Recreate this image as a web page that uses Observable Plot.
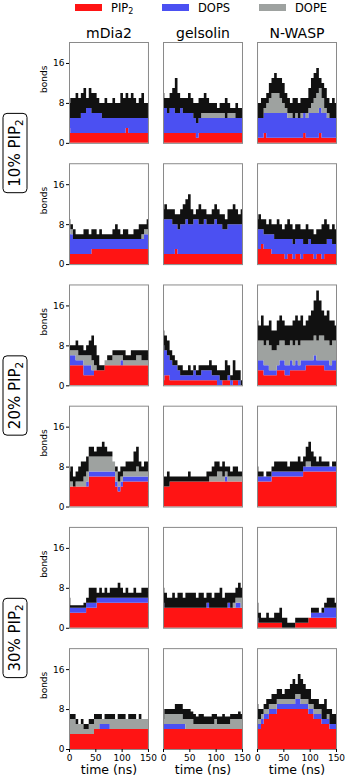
<!DOCTYPE html>
<html><head><meta charset="utf-8">
<script src="https://cdn.jsdelivr.net/npm/d3@7"></script>
<script src="https://cdn.jsdelivr.net/npm/@observablehq/plot@0.6"></script>
<style>
body{margin:0;background:#fff;font-family:"DejaVu Sans",sans-serif;}
#legend{position:relative;width:347px;height:16px;font-size:11.5px;color:#000;}
.sw{position:absolute;top:3.5px;width:26.5px;height:7.5px;}
.lt{position:absolute;top:0.5px;line-height:15px;white-space:nowrap;}
.lt sub{font-size:8px;vertical-align:-2px;line-height:0;}
</style></head><body>
<div id="legend"></div>
<div id="chart"></div>
<script>
// ---- categories ----
const proteins = ["mDia2", "gelsolin", "N-WASP"];
const conditions = ["10% PIP", "20% PIP", "30% PIP"];
const panelRows = [0, 1, 2, 3, 4, 5];
const rowCondition = [0, 0, 1, 1, 2, 2];
const lipids = ["PIP2", "DOPS", "DOPE"];
const lipidColors = ["#ff1414", "#4b50f2", "#9ea2a0"];
const times = [0,5,10,15,20,25,30,35,40,45,50,55,60,65,70,75,80,85,90,95,100,105,110,115,120,125,130,135,140,145,150];
const xTicks = [0, 50, 100, 150];
const yTicks = [0, 8, 16];

// ---- series values (bonds), one row per panel: row-major, mDia2 / gelsolin / N-WASP ----
const pip2Bonds = [
 [3,2,2,2,2,2,2,2,2,2,2,2,2,2,2,2,2,2,2,2,2,2,3,2,2,2,2,2,2,2,2],
 [2,2,2,2,2,2,2,2,2,2,2,2,2,1,2,2,2,2,2,2,2,2,2,2,2,2,2,2,2,2,2],
 [1,1,1,2,1,1,1,1,1,1,1,1,1,1,1,1,1,1,2,1,1,1,1,1,2,1,1,1,1,1,1],
 [2,2,2,2,2,2,2,2,2,3,3,3,3,3,3,3,3,3,3,3,3,3,3,3,3,3,3,3,3,3,3],
 [2,2,2,2,2,3,2,2,2,2,2,2,2,2,2,2,2,2,2,2,2,2,2,2,2,2,2,2,2,2,2],
 [3,3,4,3,3,3,2,2,2,2,2,1,2,2,1,2,2,1,2,2,2,2,1,2,2,1,2,2,2,2,2],
 [4,4,4,4,4,4,2,2,2,2,3,3,3,3,4,4,4,4,4,4,4,4,4,4,4,4,4,4,4,4,4],
 [1,2,2,1,1,1,1,1,1,1,1,1,1,1,1,1,1,1,1,1,1,0,0,1,1,1,0,1,1,0,0],
 [3,3,3,2,2,2,2,2,3,3,3,2,2,3,3,3,3,3,3,4,4,4,4,4,4,4,3,3,3,3,3],
 [4,4,4,4,4,4,4,4,6,6,6,6,6,6,6,6,6,6,4,3,4,5,5,5,5,5,5,5,5,5,5],
 [4,4,4,5,5,5,5,5,5,5,5,5,5,5,5,5,5,5,5,5,5,5,5,5,5,5,5,5,5,5,5],
 [5,5,5,5,5,5,6,6,6,6,6,6,6,6,6,6,6,6,7,7,7,7,7,7,7,7,7,7,7,7,7],
 [3,3,3,3,3,3,3,4,4,4,4,5,5,5,5,5,5,5,5,5,5,5,5,5,5,5,5,5,5,5,5],
 [4,4,4,4,4,4,4,4,4,4,4,4,4,4,4,4,4,4,4,4,4,4,4,4,4,4,4,4,4,4,4],
 [1,1,1,1,1,1,1,1,1,1,0,0,0,0,0,1,1,1,1,1,2,2,2,2,2,2,2,2,2,2,2],
 [3,3,3,3,3,3,3,3,3,3,4,4,4,4,4,4,4,4,4,4,4,4,4,4,4,4,4,4,4,4,4],
 [4,4,4,4,4,4,4,4,4,4,4,4,4,4,4,4,4,4,4,4,4,4,4,4,4,4,4,4,4,4,4],
 [4,4,5,6,6,7,7,7,8,8,8,8,8,8,8,8,8,8,8,8,7,7,6,6,6,5,5,5,4,4,4]
];
const dopsBonds = [
 [2,3,3,3,3,4,4,5,5,4,4,4,4,3,3,3,3,3,3,3,3,3,2,3,3,3,3,3,3,3,3],
 [5,5,4,5,5,4,4,5,4,4,4,4,3,3,3,3,3,3,3,3,3,3,3,3,3,3,3,3,3,3,3],
 [4,4,4,4,5,5,5,5,5,5,5,5,4,4,4,4,4,4,4,4,5,5,5,5,5,5,5,4,4,4,4],
 [5,4,3,3,3,3,3,3,3,2,2,2,2,2,2,2,2,2,2,2,2,2,2,2,2,2,2,2,2,3,3],
 [7,7,7,7,6,5,5,6,6,7,6,6,7,7,6,6,7,6,6,6,7,6,6,5,5,6,6,6,6,6,6],
 [4,4,3,3,3,3,4,3,3,3,3,4,3,3,3,3,3,4,2,2,3,2,3,2,2,3,2,3,3,2,2],
 [2,2,2,1,1,1,2,2,2,1,0,0,0,0,0,0,0,0,0,0,1,0,0,0,0,0,0,0,0,0,0],
 [7,5,4,4,3,3,2,1,1,1,1,1,2,1,1,2,2,2,2,1,1,2,1,0,0,1,1,0,0,1,0],
 [2,2,2,2,2,1,1,1,1,2,2,2,2,2,1,2,1,2,2,1,1,1,2,1,1,1,2,2,1,2,2],
 [0,0,0,0,0,0,0,1,1,1,1,1,1,1,1,1,1,1,1,1,1,1,1,1,1,1,1,1,1,1,1],
 [0,0,0,0,0,0,0,0,0,0,0,0,0,0,0,0,0,0,0,0,0,0,0,0,1,0,0,0,0,0,0],
 [1,1,1,1,1,1,1,1,1,1,1,1,1,1,1,1,1,1,1,1,1,1,1,1,1,1,1,1,1,1,1],
 [1,1,1,1,1,1,1,1,1,1,1,1,1,1,1,1,1,1,1,1,1,1,1,1,1,1,1,1,1,1,1],
 [1,0,0,0,0,0,0,0,0,0,0,0,0,0,0,0,0,1,0,0,0,0,0,0,0,1,0,0,1,1,0],
 [1,0,0,0,0,0,0,0,0,0,0,0,0,0,0,0,0,0,0,0,0,1,1,1,1,1,2,2,2,2,2],
 [0,0,0,0,0,0,0,0,0,0,0,0,1,1,1,1,0,0,0,0,0,0,0,0,0,0,0,0,0,0,0],
 [1,1,1,1,1,1,1,1,1,0,0,0,0,0,0,0,0,0,0,0,0,0,0,0,0,0,0,0,0,0,0],
 [1,1,1,1,1,1,1,1,1,1,1,1,1,1,1,2,2,1,1,1,1,1,1,1,1,1,1,1,1,1,1]
];
const dopeBonds = [
 [0,0,0,0,0,0,0,0,0,0,0,0,0,0,0,0,0,0,0,0,0,0,0,0,0,0,0,0,0,0,0],
 [0,0,0,0,0,0,0,0,0,0,0,0,0,0,0,1,1,1,1,1,1,1,1,1,0,1,1,1,0,0,0],
 [0,0,0,1,2,3,4,4,4,3,2,1,1,1,0,1,0,1,0,1,1,2,3,4,4,3,1,1,0,0,0],
 [1,1,0,0,0,0,0,0,0,0,0,0,0,0,0,0,0,0,0,0,0,0,0,0,0,0,0,0,1,1,1],
 [0,0,0,0,0,0,0,0,0,0,0,0,0,0,0,0,0,0,0,0,0,0,0,0,0,0,0,0,0,0,0],
 [0,0,0,0,0,0,0,0,0,0,0,0,0,0,0,0,0,0,0,0,0,0,0,0,0,0,0,0,0,0,0],
 [1,1,1,2,1,1,2,2,2,2,1,0,0,0,1,1,1,2,2,2,1,1,1,1,1,1,2,2,1,1,1],
 [0,0,0,0,0,0,0,0,0,0,0,0,0,0,0,0,0,0,0,0,0,0,0,0,0,0,0,0,0,0,0],
 [4,4,4,4,5,5,4,4,4,4,4,4,4,4,4,4,4,4,4,4,4,4,4,4,5,5,4,4,4,4,4],
 [1,1,0,1,1,1,2,2,3,3,3,3,3,3,3,3,3,2,2,1,1,1,1,1,1,1,2,1,1,1,1],
 [0,0,0,0,0,0,0,0,0,0,0,0,0,0,0,0,0,0,1,1,1,2,2,1,1,1,1,1,1,1,1],
 [0,0,0,0,0,0,0,0,0,0,0,0,0,0,0,0,0,0,0,1,1,0,0,0,0,0,0,0,0,0,0],
 [0,0,0,0,0,0,0,0,0,0,0,0,0,0,0,0,0,0,0,0,0,0,0,0,0,0,0,0,0,0,0],
 [0,0,0,0,0,0,0,0,0,0,0,0,0,0,0,0,0,0,0,0,0,0,0,0,0,0,0,1,1,1,2],
 [0,0,0,0,0,0,0,0,0,0,0,0,0,0,0,0,0,0,0,0,0,0,0,0,0,0,0,0,0,0,0],
 [3,3,3,2,2,2,1,1,2,2,2,2,1,1,1,1,2,2,2,2,2,2,2,2,2,2,2,2,2,2,2],
 [1,2,2,2,2,2,2,2,1,2,2,2,1,1,1,1,1,1,1,1,2,1,1,1,1,1,2,2,2,2,2],
 [1,1,1,1,1,1,1,1,1,1,1,1,1,1,1,1,1,1,1,1,1,1,1,1,1,0,0,1,0,0,0]
];
// upper edge of the fluctuating total (black trace)
const peakBonds = [
 [8,9,9,10,9,10,11,9,11,10,10,9,8,8,9,8,8,9,8,8,10,9,10,9,10,9,8,9,10,8,8],
 [10,9,9,10,11,13,10,9,9,9,10,9,8,8,9,9,10,9,8,8,8,7,8,8,9,8,7,7,8,7,7],
 [8,8,9,9,10,12,13,14,13,13,12,10,9,8,9,9,8,9,9,9,11,13,14,15,13,12,11,9,8,9,8],
 [9,8,7,6,6,6,7,7,6,7,7,6,7,6,6,6,6,7,8,7,6,7,7,6,6,7,7,8,8,8,9],
 [11,12,11,11,11,10,10,11,12,13,14,11,10,11,12,11,11,10,10,11,12,11,10,10,9,11,11,12,11,10,11],
 [9,10,9,9,8,9,8,8,9,8,7,8,9,8,7,8,8,7,7,8,7,7,6,7,7,8,9,8,7,8,7],
 [8,8,8,9,8,8,7,8,9,10,8,6,4,4,5,6,6,7,7,7,7,7,6,6,7,7,7,7,7,7,7],
 [11,10,9,7,6,5,4,4,3,3,4,3,4,3,4,4,4,4,5,4,4,3,3,3,5,4,2,5,3,3,1],
 [13,12,14,12,12,13,11,11,13,14,13,12,12,12,13,14,13,14,12,13,14,15,17,19,17,15,14,15,13,13,12],
 [7,8,6,7,8,9,9,10,12,12,11,12,12,13,12,11,11,9,8,7,8,8,9,9,9,11,12,9,8,9,9],
 [6,6,7,6,6,6,6,6,6,6,7,6,6,6,6,6,6,7,7,8,9,9,8,9,8,8,7,8,8,7,7],
 [8,7,7,6,7,7,8,9,9,9,9,9,8,9,9,9,10,9,10,12,13,11,10,9,10,9,9,9,8,9,9],
 [6,4.5,4.5,4.5,4.5,4.5,5,6,8,8,8,7,8,7,8,7,8,8,8,9,8,7,8,7,7,8,7,7,8,8,8],
 [8,7,6,6,7,6,7,7,6,7,7,7,7,6,7,7,6,7,7,6,7,7,8,6,7,7,7,7,8,9,8],
 [5,3,2,2,3,2,2,3,3,4,2,2,1,1,1,2,2,2,2,2,2,4,4,4,3,4,5,6,6,6,5],
 [7,7,7,6,5,6,5,5,6,6,7,7,7,6,7,7,7,7,6,7,7,7,6,7,7,7,6,7,6,6,6],
 [7,8,8,8,8,9,9,9,8,8,8,7.5,7,6.5,7,7,6.5,6.5,6.5,7,7,6.5,6.5,7,6.5,6.5,7,7,7,7.5,7],
 [9,8,8,9,10,10,11,11,12,12,11,12,12,13,14,13,15,14,13,12,12,10,10,10,9,9,10,8,8,7,7]
];
const seriesByLipid = [pip2Bonds, dopsBonds, dopeBonds];

// ---- tables for Plot ----
const layerData = [];
const traceData = [];
pip2Bonds.forEach((_, k) => {
  const row = Math.floor(k / 3), protein = proteins[k % 3];
  times.forEach((t, i) => {
    let total = 0;
    lipids.forEach((lipid, j) => {
      const v = seriesByLipid[j][k][i];
      total += v;
      layerData.push({row, protein, time: t, lipid, bonds: v});
    });
    traceData.push({row, protein, time: t, low: total, high: peakBonds[k][i]});
  });
});

// ---- legend ----
const legend = document.getElementById("legend");
const legendPos = [[75, 111], [162, 198], [259, 295]];
const legendLabels = ["PIP<sub>2</sub>", "DOPS", "DOPE"];
lipids.forEach((l, j) => {
  const s = document.createElement("div");
  s.className = "sw"; s.style.left = legendPos[j][0] + "px"; s.style.background = lipidColors[j];
  legend.appendChild(s);
  const t = document.createElement("div");
  t.className = "lt"; t.style.left = legendPos[j][1] + "px"; t.innerHTML = legendLabels[j];
  legend.appendChild(t);
});

const font = "DejaVu Sans";
const plot = Plot.plot({
  width: 347, height: 765,
  marginLeft: 69, marginRight: 11, marginTop: 26, marginBottom: 32,
  style: {fontFamily: font, background: "#fff", color: "#000"},
  x: {domain: [0, 150]},
  y: {domain: [0, 20.2]},
  fx: {domain: proteins, paddingInner: 0.16, paddingOuter: 0, round: false},
  fy: {domain: panelRows, paddingInner: 0.168, paddingOuter: 0, round: false, axis: null},
  color: {domain: lipids, range: lipidColors},
  marks: [
    Plot.areaY(layerData, Plot.stackY({order: lipids}, {
      x: "time", y: "bonds", z: "lipid", fill: "lipid", fx: "protein", fy: "row", curve: "step"
    })),
    Plot.areaY(traceData, {x: "time", y1: "low", y2: "high", fill: "#111", fx: "protein", fy: "row", curve: "step"}),
    Plot.frame({stroke: "#8a8a8a", strokeWidth: 1}),
    Plot.axisX({ticks: xTicks, tickSize: 3, tickPadding: 2, fontSize: 9, label: null, facetAnchor: "bottom"}),
    Plot.axisY({ticks: yTicks, tickSize: 3, tickPadding: 2, fontSize: 9, label: null, facetAnchor: "left"}),
    Plot.axisFx({anchor: "top", label: null, fontSize: 14, tickSize: 0, tickPadding: 5}),
    Plot.text(panelRows, {fy: d => d, fx: () => "mDia2", frameAnchor: "left", text: () => "bonds",
      rotate: -90, dx: -25, fontSize: 9}),
    Plot.text(proteins, {fx: d => d, fy: () => 5, frameAnchor: "bottom", text: () => "time (ns)",
      dy: 24, fontSize: 12.5})
  ]
});
document.getElementById("chart").appendChild(plot);

// ---- row-group labels (boxes spanning two panel rows) ----
const fyScale = plot.scale("fy");
const svg = d3.select(plot);
conditions.forEach((c, g) => {
  const r0 = fyScale.apply(2 * g), r1 = fyScale.apply(2 * g + 1) + fyScale.bandwidth;
  const cy = (r0 + r1) / 2;
  const grp = svg.append("g").attr("transform", `translate(15,${cy})`);
  const txt = grp.append("text").attr("transform", "rotate(-90)")
    .attr("text-anchor", "middle").attr("dominant-baseline", "central")
    .attr("font-family", font).attr("font-size", 15).attr("fill", "#000");
  txt.append("tspan").text(c);
  txt.append("tspan").attr("font-size", 10.5).attr("dy", 4).text("2");
  const bb = txt.node().getBBox();
  grp.insert("rect", "text")
    .attr("x", -12).attr("width", 24)
    .attr("y", -bb.width / 2 - 6).attr("height", bb.width + 12)
    .attr("rx", 4).attr("fill", "#fff").attr("stroke", "#000").attr("stroke-width", 1);
});
</script>
</body></html>
